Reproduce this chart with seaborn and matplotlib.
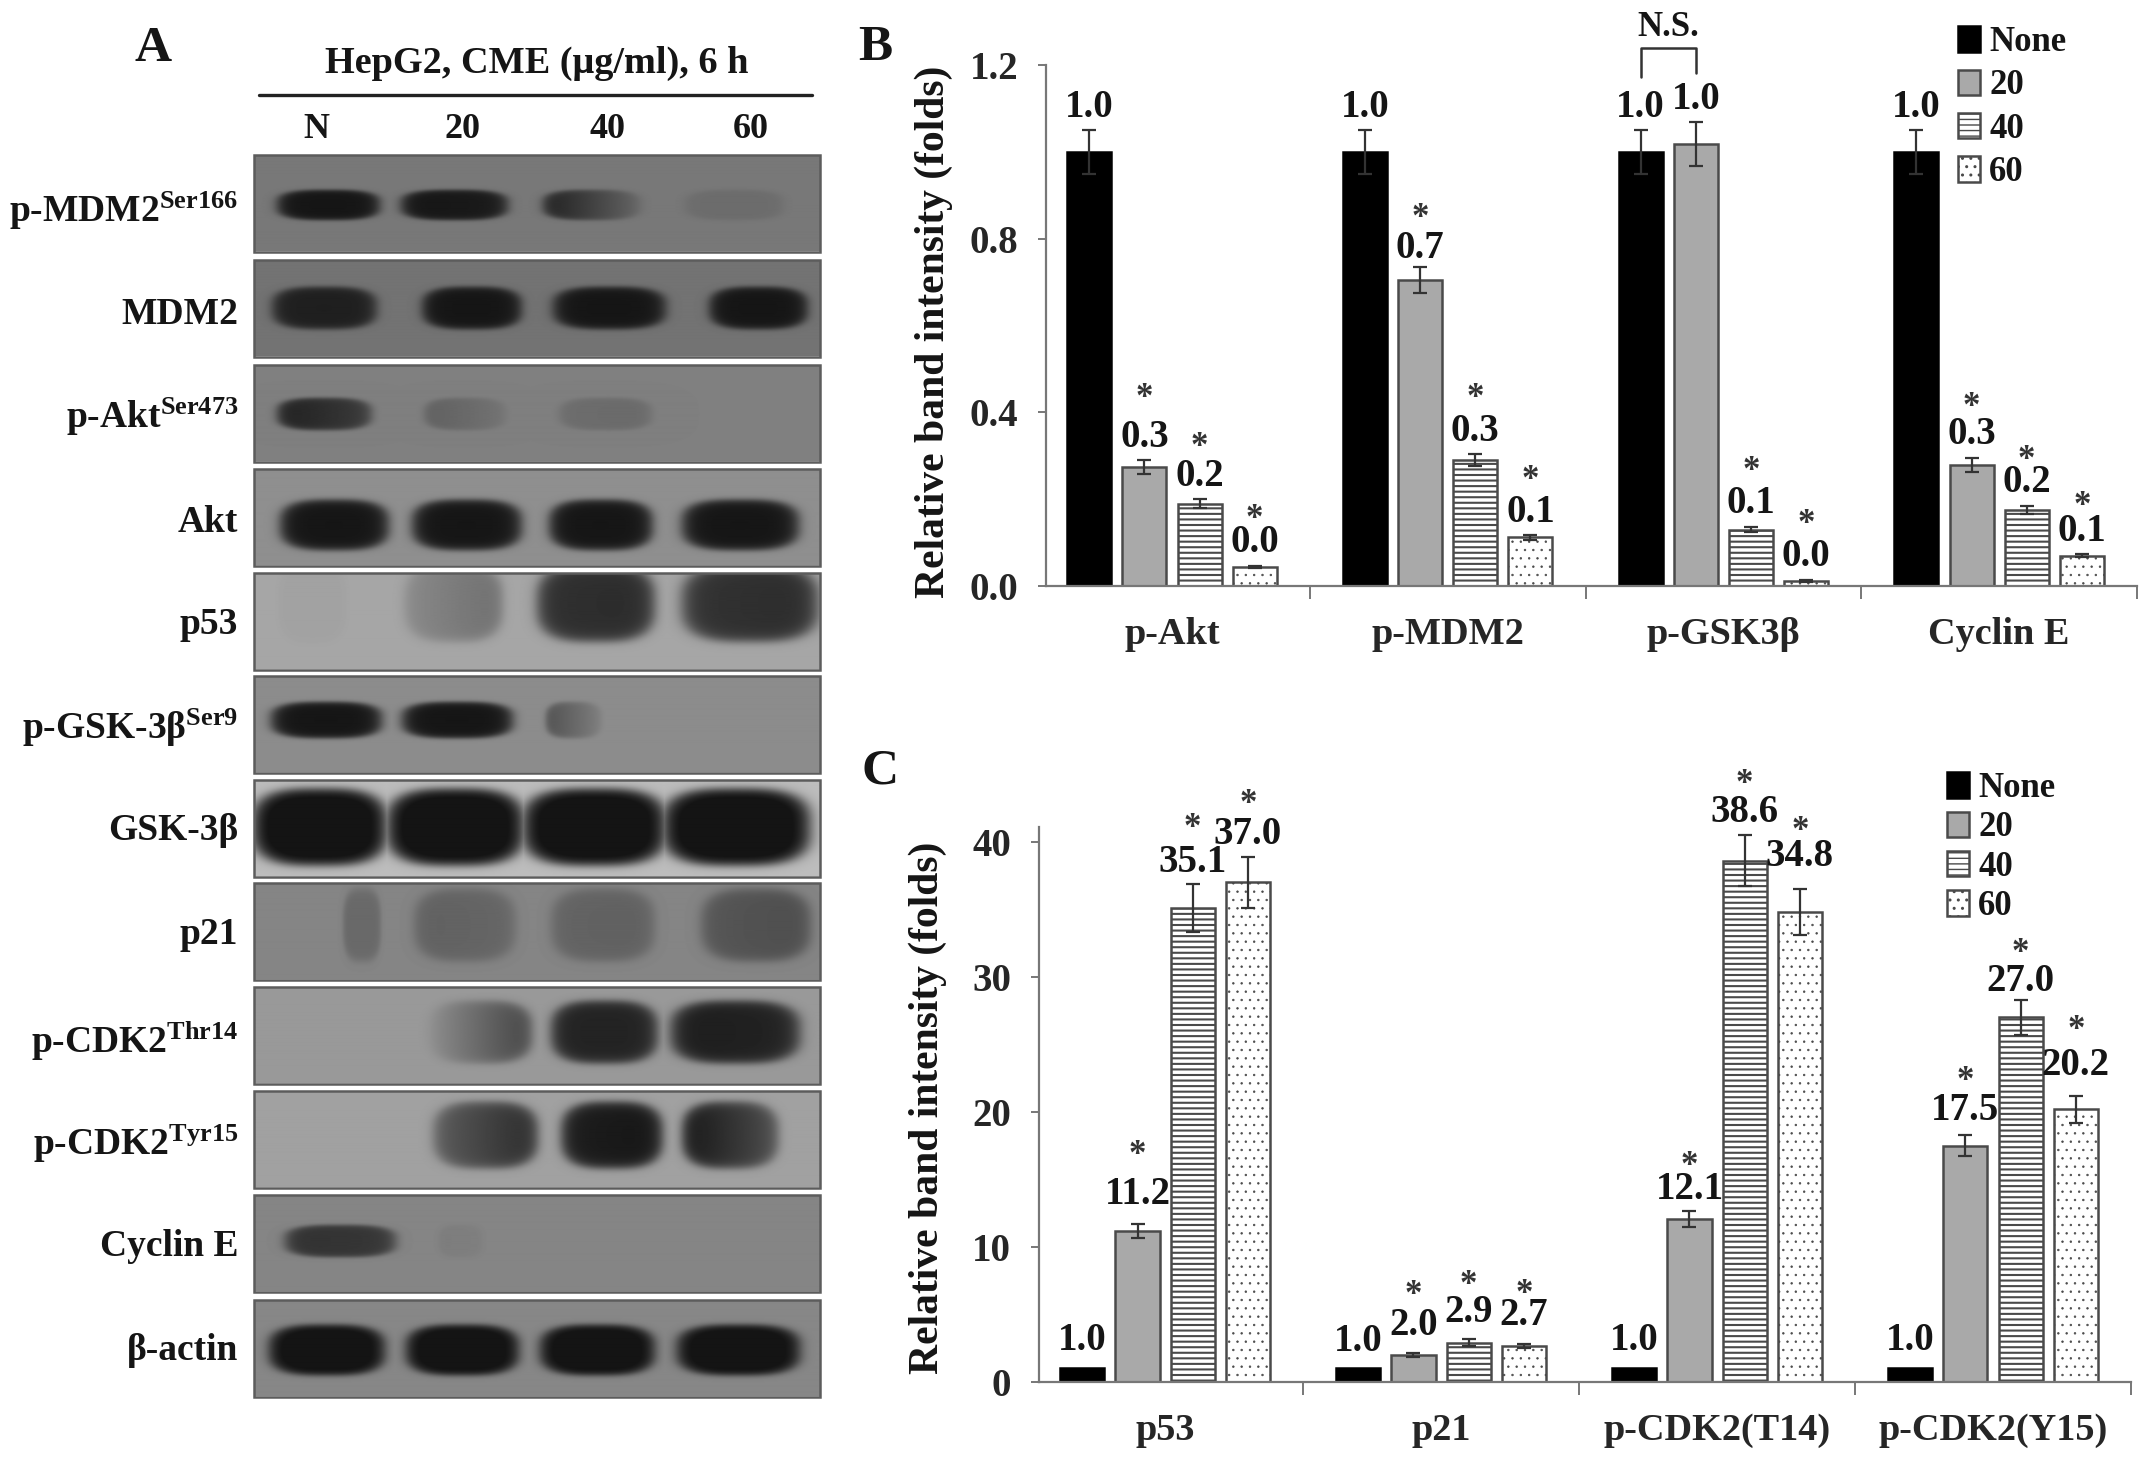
import numpy as np
import pandas as pd
import matplotlib
matplotlib.use("Agg")
import matplotlib.pyplot as plt
from matplotlib.patches import Rectangle
import seaborn as sns

# Panel A - blot labels and band darkness (left/right end of the band in each lane, 0 to 1)
blot_labels = ["p-MDM2$^{Ser166}$", "MDM2", "p-Akt$^{Ser473}$", "Akt", "p53", "p-GSK-3β$^{Ser9}$",
               "GSK-3β", "p21", "p-CDK2$^{Thr14}$", "p-CDK2$^{Tyr15}$", "Cyclin E", "β-actin"]
blot_paper = [0.47, 0.45, 0.50, 0.56, 0.65, 0.55, 0.74, 0.52, 0.60, 0.63, 0.52, 0.53]
blot_density = [
    [[1.0, 1.0], [1.0, 0.95], [0.9, 0.2], [0.12, 0.12]],
    [[0.9, 0.9], [1.0, 1.0], [1.0, 1.0], [1.0, 1.0]],
    [[0.9, 0.65], [0.3, 0.12], [0.18, 0.2], [0.0, 0.0]],
    [[1.0, 1.0], [1.0, 1.0], [1.0, 1.0], [1.0, 1.0]],
    [[0.03, 0.03], [0.2, 0.38], [0.82, 0.85], [0.8, 0.85]],
    [[1.0, 1.0], [1.0, 1.0], [0.5, 0.12], [0.0, 0.0]],
    [[1.1, 1.1], [1.1, 1.1], [1.1, 1.1], [1.1, 1.1]],
    [[0.25, 0.25], [0.32, 0.28], [0.3, 0.32], [0.42, 0.5]],
    [[0.0, 0.0], [0.08, 0.65], [0.9, 0.9], [0.95, 0.9]],
    [[0.0, 0.0], [0.5, 0.85], [0.95, 1.0], [1.0, 0.6]],
    [[0.75, 0.7], [0.07, 0.05], [0.0, 0.0], [0.0, 0.0]],
    [[1.1, 1.1], [1.1, 1.1], [1.1, 1.1], [1.1, 1.1]],
]
lane_labels = ["N", "20", "40", "60"]

# Panel B
b_groups = ["p-Akt", "p-MDM2", "p-GSK3β", "Cyclin E"]
doses = ["None", "20", "40", "60"]
b_values = [[1.0, 0.274, 0.19, 0.044], [1.0, 0.705, 0.29, 0.112], [1.0, 1.018, 0.13, 0.012], [1.0, 0.279, 0.175, 0.07]]
b_errors = [[0.05, 0.016, 0.01, 0.003], [0.05, 0.03, 0.013, 0.005], [0.05, 0.05, 0.006, 0.002], [0.05, 0.016, 0.01, 0.003]]
b_labels = [["1.0", "0.3", "0.2", "0.0"], ["1.0", "0.7", "0.3", "0.1"], ["1.0", "1.0", "0.1", "0.0"], ["1.0", "0.3", "0.2", "0.1"]]
b_stars = [[0, 1, 1, 1], [0, 1, 1, 1], [0, 0, 1, 1], [0, 1, 1, 1]]

# Panel C
c_groups = ["p53", "p21", "p-CDK2(T14)", "p-CDK2(Y15)"]
c_values = [[1.0, 11.2, 35.1, 37.0], [1.0, 2.0, 2.9, 2.7], [1.0, 12.1, 38.6, 34.8], [1.0, 17.5, 27.0, 20.2]]
c_errors = [[0, 0.5, 1.8, 1.9], [0, 0.15, 0.25, 0.15], [0, 0.6, 1.9, 1.7], [0, 0.8, 1.3, 1.0]]
c_labels = [["1.0", "11.2", "35.1", "37.0"], ["1.0", "2.0", "2.9", "2.7"], ["1.0", "12.1", "38.6", "34.8"], ["1.0", "17.5", "27.0", "20.2"]]
c_stars = [[0, 1, 1, 1], [0, 1, 1, 1], [0, 1, 1, 1], [0, 1, 1, 1]]

# where things sit on the page, in pixels
blot_x = (254, 820)
blot_top = [155, 260, 365, 469, 573, 676, 780, 883, 987, 1091, 1195, 1300]
blot_h = 97
band_y = [205, 308, 414, 525, 603, 720, 827, 925, 1032, 1135, 1241, 1350]
band_h = [15, 21, 16, 25, 38, 18, 38, 36, 31, 33, 16, 25]
band_x = [
    [(278, 378), (402, 506), (544, 640), (686, 782)],
    [(273, 375), (423, 520), (554, 664), (710, 806)],
    [(278, 370), (425, 505), (560, 650), (690, 780)],
    [(281, 387), (413, 520), (550, 651), (683, 797)],
    [(280, 345), (405, 501), (538, 653), (683, 816)],
    [(272, 380), (403, 511), (546, 601), (690, 780)],
    [(254, 385), (388, 522), (524, 664), (664, 808)],
    [(343, 380), (415, 514), (552, 653), (702, 809)],
    [(280, 380), (428, 530), (552, 656), (672, 798)],
    [(280, 380), (434, 536), (562, 661), (683, 777)],
    [(286, 394), (439, 482), (560, 650), (690, 780)],
    [(270, 383), (407, 517), (541, 653), (678, 798)],
]
label_y = [211, 314, 417, 523, 625, 728, 830, 935, 1041, 1144, 1246, 1351]
lane_x = [316, 463, 607, 751]

# gaps above the error bar, in pixels
b_label_gap = [[23, 23, 23, 23], [23, 18, 23, 23], [23, 23, 23, 23], [23, 23, 23, 23]]
b_star_gap = [[0, 62, 52, 46], [0, 48, 56, 55], [0, 0, 55, 55], [0, 50, 45, 48]]
c_label_gap = [[28, 30, 21, 22], [27, 27, 27, 28], [28, 21, 23, 33], [28, 24, 18, 30]]
c_star_gap = [[0, 69, 55, 52], [0, 57, 54, 49], [0, 44, 51, 58], [0, 53, 46, 65]]

W, H = 2150, 1461
sns.set_style("white")
plt.rcParams["font.family"] = ["Liberation Serif", "DejaVu Serif"]
plt.rcParams["font.weight"] = "bold"
plt.rcParams["text.color"] = "#151515"
plt.rcParams["mathtext.fontset"] = "custom"
plt.rcParams["mathtext.rm"] = "Liberation Serif:bold"
plt.rcParams["mathtext.bf"] = "Liberation Serif:bold"
plt.rcParams["mathtext.default"] = "bf"

fig = plt.figure(figsize=(W / 100, H / 100), dpi=100, facecolor="white")

# page axes in pixel units for panel A and the letters
page = fig.add_axes([0, 0, 1, 1])

xs = np.arange(blot_x[0], blot_x[1])
for i in range(len(blot_labels)):
    ys = np.arange(blot_top[i], blot_top[i] + blot_h)
    X, Y = np.meshgrid(xs, ys)
    dark = np.zeros(X.shape)
    for (xa, xb), (d0, d1) in zip(band_x[i], blot_density[i]):
        if d0 == 0 and d1 == 0:
            continue
        # rounded blob, fading at the rim
        r = np.abs((X - (xa + xb) / 2) / ((xb - xa) / 2)) ** 3 + np.abs((Y - band_y[i]) / band_h[i]) ** 3
        level = d0 + (d1 - d0) * np.clip((X - xa) / (xb - xa), 0, 1)
        dark = np.maximum(dark, level * 0.5 * (1 - np.tanh((r - 1) * 2.2)))
    gray = blot_paper[i] * (1 - np.clip(dark, 0, 1)) + 0.08 * np.clip(dark, 0, 1)
    page.imshow(gray, cmap="gray", vmin=0, vmax=1, aspect="auto", interpolation="bilinear",
                extent=(blot_x[0], blot_x[1], ys[-1], ys[0]))
    page.add_patch(Rectangle((blot_x[0], ys[0]), blot_x[1] - blot_x[0], blot_h, fill=False,
                             edgecolor="#5c5c5c", linewidth=1.8))
    page.text(238, label_y[i], blot_labels[i], ha="right", va="center", fontsize=27)

for x, lab in zip(lane_x, lane_labels):
    page.text(x, 130, lab, ha="center", va="center", fontsize=26)
page.text(537, 63, "HepG2, CME (μg/ml), 6 h", ha="center", va="center", fontsize=27.5)
page.plot([259, 812], [95, 95], color="#222222", linewidth=2.4)
page.text(153, 49, "A", ha="center", va="center", fontsize=37)
page.text(875, 48, "B", ha="center", va="center", fontsize=37)
page.text(880, 771, "C", ha="center", va="center", fontsize=37)
page.text(934, 332, "Relative band intensity (folds)", rotation=90, ha="center", va="center", fontsize=30)
page.text(928, 1108, "Relative band intensity (folds)", rotation=90, ha="center", va="center", fontsize=30)
page.set_xlim(0, W)
page.set_ylim(H, 0)
page.axis("off")


def long_table(groups, values):
    rows = []
    for g, vals in zip(groups, values):
        for d, v in zip(doses, vals):
            rows.append({"group": g, "dose": d, "value": v})
    return pd.DataFrame(rows)


def draw_chart(pos, groups, values, errors, labels, stars, label_gap, star_gap, ylim, yticks, fmt):
    left, right, bottom, top = pos
    ax = fig.add_axes([left / W, 1 - bottom / H, (right - left) / W, (bottom - top) / H])
    ax.patch.set_alpha(0)
    sns.barplot(data=long_table(groups, values), x="group", y="value", hue="dose", order=groups,
                hue_order=doses, width=0.8, gap=0.2, errorbar=None, legend=False, ax=ax)
    bars = list(ax.containers)
    fills = ["black", "#a9a9a9", "white", "white"]
    hatches = [None, None, "---", ".."]
    hatch_lw = [1.0, 1.0, 1.5, 0.5]
    for k, cont in enumerate(bars):
        for j, p in enumerate(cont.patches):
            p.set_facecolor(fills[k])
            p.set_edgecolor("black" if k == 0 else "#4a4a4a")
            p.set_linewidth(1.8)
            p.set_hatch(hatches[k])
            p.set_hatch_linewidth(hatch_lw[k])
            cx = p.get_x() + p.get_width() / 2
            err = errors[j][k]
            if err > 0:
                ax.errorbar(cx, values[j][k], yerr=err, ecolor="#333333", elinewidth=1.6,
                            capsize=5, capthick=1.6, zorder=5)
            tip = values[j][k] + err
            ax.annotate(labels[j][k], xy=(cx, tip), xytext=(0, label_gap[j][k]), textcoords="offset pixels",
                        ha="center", va="center", fontsize=28, annotation_clip=False)
            if stars[j][k]:
                ax.annotate("*", xy=(cx, tip), xytext=(0, star_gap[j][k]), textcoords="offset pixels",
                            ha="center", va="center", fontsize=25, color="#333333", annotation_clip=False)
    ax.set_xlim(-0.457, 3.5)
    ax.set_ylim(*ylim)
    ax.set_xlabel("")
    ax.set_ylabel("")
    ax.set_yticks(yticks)
    ax.set_yticklabels([fmt % t for t in yticks], fontsize=28)
    ax.set_xticks([0.5, 1.5, 2.5, 3.5])
    ax.set_xticklabels([])
    ax.set_xticks([0, 1, 2, 3], minor=True)
    ax.set_xticklabels(groups, minor=True, fontsize=27.5)
    ax.tick_params(axis="x", which="major", length=9, width=1.4, color="#777777", bottom=True)
    ax.tick_params(axis="x", which="minor", length=0, pad=22)
    ax.tick_params(axis="y", length=6, width=1.4, color="#777777", left=True, pad=14)
    sns.despine(ax=ax)
    for s in ["left", "bottom"]:
        ax.spines[s].set_color("#777777")
        ax.spines[s].set_linewidth(1.6)
    return ax, bars


ax_b, bars_b = draw_chart((1046, 2137, 586, 65), b_groups, b_values, b_errors, b_labels, b_stars,
                          b_label_gap, b_star_gap, (0, 1.2), [0.0, 0.4, 0.8, 1.2], "%.1f")
ax_c, bars_c = draw_chart((1039, 2131, 1382, 827), c_groups, c_values, c_errors, c_labels, c_stars,
                          c_label_gap, c_star_gap, (0, 41.1), [0, 10, 20, 30, 40], "%d")

# N.S. bracket over the first two bars of p-GSK3β
p1 = bars_b[0].patches[2]
p2 = bars_b[1].patches[2]
x1 = p1.get_x() + p1.get_width() / 2
x2 = p2.get_x() + p2.get_width() / 2
ax_b.plot([x1, x1, x2, x2], [1.172, 1.239, 1.239, 1.182], color="#333333", linewidth=1.8, clip_on=False)
ax_b.text((x1 + x2) / 2, 1.287, "N.S.", ha="center", va="center", fontsize=25, clip_on=False)

ax_b.legend(bars_b, doses, loc="upper left", bbox_to_anchor=(1958 / W, 1 - 26 / H), bbox_transform=fig.transFigure,
            frameon=False, fontsize=25, borderpad=0, borderaxespad=0, handlelength=0.62, handleheight=0.75,
            handletextpad=0.28, labelspacing=0.3)
ax_c.legend(bars_c, doses, loc="upper left", bbox_to_anchor=(1947 / W, 1 - 772 / H), bbox_transform=fig.transFigure,
            frameon=False, fontsize=25, borderpad=0, borderaxespad=0, handlelength=0.62, handleheight=0.75,
            handletextpad=0.28, labelspacing=0.185)

fig.savefig("out.png", dpi=100)
